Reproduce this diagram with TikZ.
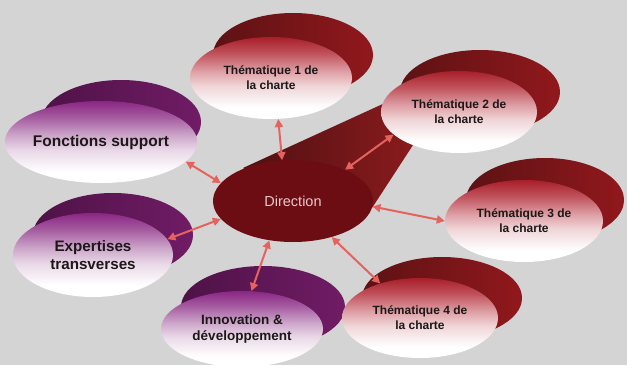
\documentclass[tikz,border=0pt]{standalone}
\usepackage{fontspec}
\setmainfont{Liberation Sans}
\usetikzlibrary{shapes.geometric,arrows.meta}
\definecolor{bg}{RGB}{212,212,212}
\definecolor{rsdark}{RGB}{92,18,20}
\definecolor{rslight}{RGB}{145,24,28}
\definecolor{rtop}{RGB}{168,30,42}
\definecolor{rr1}{RGB}{192,82,92}
\definecolor{rr2}{RGB}{222,160,166}
\definecolor{rr3}{RGB}{240,214,216}
\definecolor{psdark}{RGB}{78,18,70}
\definecolor{pslight}{RGB}{112,28,102}
\definecolor{ptop}{RGB}{138,38,132}
\definecolor{pp1}{RGB}{165,92,160}
\definecolor{pp2}{RGB}{205,166,202}
\definecolor{pp3}{RGB}{233,216,231}
\definecolor{dirc}{RGB}{108,13,20}
\definecolor{dirtext}{RGB}{234,200,204}
\definecolor{conedark}{RGB}{80,16,18}
\definecolor{conelight}{RGB}{142,28,30}
\definecolor{arrowc}{RGB}{230,98,92}
\definecolor{txt}{RGB}{28,24,24}
\pgfdeclareverticalshading{redfade}{100bp}{color(0bp)=(white); color(25bp)=(white);
  color(32bp)=(white); color(45bp)=(rr3); color(54bp)=(rr2); color(65bp)=(rr1);
  color(75bp)=(rtop); color(100bp)=(rtop)}
\pgfdeclareverticalshading{purpfade}{100bp}{color(0bp)=(white); color(25bp)=(white);
  color(32bp)=(white); color(45bp)=(pp3); color(54bp)=(pp2); color(65bp)=(pp1);
  color(75bp)=(ptop); color(100bp)=(ptop)}
\begin{document}
\begin{tikzpicture}[x=1pt,y=-1pt,
  redshadow/.style={left color=rsdark, right color=rslight},
  purpshadow/.style={left color=psdark, right color=pslight},
  frontbase/.style={ellipse, inner sep=0pt, align=center, text=txt,
     minimum width=160pt, minimum height=82pt},
  redfront/.style={frontbase, shading=redfade,
     font=\bfseries\fontsize{12}{15}\selectfont},
  purpfront/.style={frontbase, shading=purpfade},
  link/.style={{Triangle[length=8pt,width=8pt]}-{Triangle[length=8pt,width=8pt]},
     line width=2pt, draw=arrowc}]
\fill[bg] (0,0) rectangle (627,365);
\useasboundingbox (0,0) rectangle (627,365);
\begin{scope}
\clip (0,0) rectangle (627,365);
% purple groups
\shade[purpshadow] (121,122) ellipse [x radius=80pt, y radius=42pt];
\node[purpfront, font=\bfseries\fontsize{15.5}{18}\selectfont] (fs) at (101,142) {Fonctions support};
\shade[purpshadow] (113,235) ellipse [x radius=80pt, y radius=42pt];
\node[purpfront, minimum height=84pt, font=\bfseries\fontsize{15.2}{18}\selectfont] (ex) at (93,255) {Expertises\\transverses};
\shade[purpshadow] (263,307) ellipse [x radius=82pt, y radius=41pt];
\node[purpfront, minimum width=162pt, minimum height=76pt, font=\bfseries\fontsize{13.5}{16}\selectfont] (in) at (242,329) {Innovation \&\\développement};
% cone and direction
\shade[left color=conedark, right color=conelight] (243,168) -- (398,97) -- (428,122) -- (372,208) -- (293,201) -- cycle;
\node[ellipse, inner sep=0pt, minimum width=160pt, minimum height=82pt, fill=dirc,
   text=dirtext, font=\fontsize{14.5}{17}\selectfont] (dir) at (293,201) {Direction};
% red groups
\shade[redshadow] (293,55) ellipse [x radius=80pt, y radius=42pt];
\node[redfront, minimum width=162pt] (t1) at (271,78) {Thématique 1 de\\la charte};
\shade[redshadow] (480,92) ellipse [x radius=80pt, y radius=42pt];
\node[redfront, minimum width=156pt] (t2) at (459,112) {Thématique 2 de\\la charte};
\shade[redshadow] (545,200) ellipse [x radius=79pt, y radius=42pt];
\node[redfront, minimum width=158pt] (t3) at (524,221) {Thématique 3 de\\la charte};
\shade[redshadow] (442,298) ellipse [x radius=80pt, y radius=41pt];
\node[redfront, minimum width=156pt, minimum height=80pt] (t4) at (420,318) {Thématique 4 de\\la charte};
\end{scope}
% connectors
\draw[link] (t1.-80) -- (dir.105);
\draw[link] (t2.199) -- (dir.31);
\draw[link] (dir.-4) -- (t3.180);
\draw[link] (dir.-43) -- (t4.139);
\draw[link] (dir.239) -- (in.76);
\draw[link] (dir.194) -- (ex.12);
\draw[link] (fs.-13) -- (dir.166);
\end{tikzpicture}
\end{document}
